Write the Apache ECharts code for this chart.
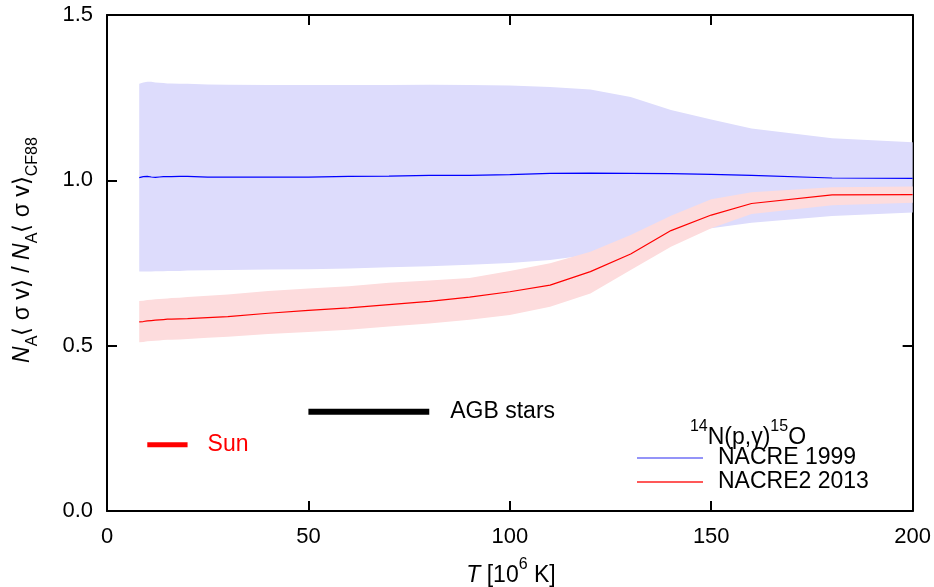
<!DOCTYPE html>
<html>
<head>
<meta charset="utf-8">
<script src="https://cdn.jsdelivr.net/npm/echarts@6/dist/echarts.min.js"></script>
<style>html,body{margin:0;padding:0;background:#fff;}#c{width:934px;height:587px;}</style>
</head>
<body>
<div id="c"></div>
<script>
// Temperature grid (10^6 K)
var T = [8, 9, 10, 11, 12, 13, 14, 15, 16, 18, 20, 25, 30, 40, 50, 60, 70, 80, 90, 100, 110, 120, 130, 140, 150, 160, 180, 200];
// NACRE 1999 (ratio to CF88)
var nacre99 = [1.008, 1.011, 1.012, 1.010, 1.009, 1.010, 1.011, 1.011, 1.011, 1.012, 1.012, 1.010, 1.010, 1.010, 1.010, 1.012, 1.013, 1.015, 1.015, 1.017, 1.021, 1.022, 1.021, 1.020, 1.018, 1.015, 1.007, 1.006];
var nacre99Hi = [1.292, 1.296, 1.298, 1.298, 1.296, 1.295, 1.294, 1.293, 1.293, 1.292, 1.292, 1.290, 1.289, 1.288, 1.288, 1.288, 1.288, 1.289, 1.288, 1.287, 1.282, 1.275, 1.252, 1.213, 1.184, 1.157, 1.127, 1.115];
var nacre99Lo = [0.724, 0.724, 0.724, 0.724, 0.725, 0.725, 0.725, 0.726, 0.726, 0.726, 0.727, 0.728, 0.729, 0.730, 0.731, 0.733, 0.737, 0.740, 0.745, 0.750, 0.759, 0.775, 0.800, 0.830, 0.855, 0.872, 0.892, 0.903];
// NACRE2 2013 (ratio to CF88)
var nacre2 = [0.572, 0.573, 0.575, 0.576, 0.577, 0.578, 0.579, 0.580, 0.580, 0.581, 0.582, 0.585, 0.588, 0.598, 0.607, 0.614, 0.624, 0.634, 0.647, 0.663, 0.683, 0.724, 0.777, 0.848, 0.895, 0.930, 0.956, 0.957];
var nacre2Hi = [0.635, 0.636, 0.638, 0.639, 0.640, 0.641, 0.642, 0.643, 0.644, 0.645, 0.647, 0.651, 0.655, 0.665, 0.673, 0.680, 0.690, 0.697, 0.705, 0.726, 0.749, 0.784, 0.835, 0.893, 0.943, 0.964, 0.979, 0.981];
var nacre2Lo = [0.510, 0.511, 0.513, 0.514, 0.515, 0.516, 0.517, 0.518, 0.518, 0.519, 0.520, 0.524, 0.527, 0.535, 0.541, 0.548, 0.558, 0.567, 0.578, 0.593, 0.618, 0.658, 0.729, 0.799, 0.855, 0.898, 0.925, 0.932];
// Temperature ranges
var sunRange = [10, 20], sunLevel = 0.2;
var agbRange = [50, 80], agbLevel = 0.3;
var xTicks = [0, 50, 100, 150, 200];
var yTicks = [0.0, 0.5, 1.0, 1.5];

var FONT = 'Liberation Sans, Arial, Helvetica, sans-serif';
function pairs(xs, ys) { return xs.map(function (x, i) { return [x, ys[i]]; }); }

var chart = echarts.init(document.getElementById('c'), null, { renderer: 'canvas' });

function axisCommon(showLabel) {
  return {
    axisLine: { show: true, onZero: false, lineStyle: { color: '#000', width: 2 } },
    axisTick: { show: true, inside: true, length: 10, lineStyle: { color: '#000', width: 2 } },
    splitLine: { show: false },
    axisLabel: { show: showLabel, color: '#000', fontSize: 22, fontFamily: FONT }
  };
}

var xb = Object.assign(axisCommon(true), { type: 'value', position: 'bottom', min: 0, max: 200, interval: 50 });
xb.axisLabel.margin = 15;
xb.axisLabel.formatter = function (v) { return xTicks.indexOf(v) >= 0 ? String(v) : ''; };
var xt = Object.assign(axisCommon(false), { type: 'value', position: 'top', min: 0, max: 200, interval: 50 });
var yl = Object.assign(axisCommon(true), { type: 'value', position: 'left', min: 0, max: 1.5, interval: 0.5 });
yl.axisLabel.margin = 14;
yl.axisLabel.formatter = function (v) { return v.toFixed(1); };
var yr = Object.assign(axisCommon(false), { type: 'value', position: 'right', min: 0, max: 1.5, interval: 0.5 });

function bandSeries(name, hi, lo, color) {
  return {
    name: name, type: 'custom', silent: true, z: 1,
    data: [0],
    renderItem: function (params, api) {
      var pts = [];
      for (var i = 0; i < T.length; i++) pts.push(api.coord([T[i], hi[i]]));
      for (var j = T.length - 1; j >= 0; j--) pts.push(api.coord([T[j], lo[j]]));
      return { type: 'polygon', shape: { points: pts }, style: { fill: color } };
    }
  };
}

var option = {
  animation: false,
  backgroundColor: '#fff',
  grid: { left: 107, right: 21, top: 15, bottom: 76, containLabel: false },
  xAxis: [xb, xt],
  yAxis: [yl, yr],
  legend: {
    left: 637, top: 446, padding: 0, orient: 'vertical', itemWidth: 66, itemHeight: 1.5, itemGap: 0, icon: 'rect',
    textStyle: { fontSize: 23, fontFamily: FONT, color: '#000', lineHeight: 24, padding: [0, 0, 0, 10] },
    data: [
      { name: 'NACRE 1999', itemStyle: { color: '#7070f6' } },
      { name: 'NACRE2 2013', itemStyle: { color: '#ff2020' } }
    ]
  },
  series: [
    bandSeries('band99', nacre99Hi, nacre99Lo, '#dddcfc'),
    bandSeries('band2', nacre2Hi, nacre2Lo, '#fddcdd'),
    { name: 'NACRE 1999', type: 'line', symbol: 'none', data: pairs(T, nacre99), lineStyle: { color: '#0000ff', width: 1.2 }, itemStyle: { color: '#0000ff' }, z: 5 },
    { name: 'NACRE2 2013', type: 'line', symbol: 'none', data: pairs(T, nacre2), lineStyle: { color: '#ff0000', width: 1.2 }, itemStyle: { color: '#ff0000' }, z: 5 },
    { name: 'Sun', type: 'line', symbol: 'none', data: sunRange.map(function (t) { return [t, sunLevel]; }),
      lineStyle: { color: '#ff0000', width: 5, cap: 'butt' }, z: 6,
      endLabel: { show: true, formatter: 'Sun', color: '#ff0000', fontSize: 23, fontFamily: FONT, distance: 20 } },
    { name: 'AGB', type: 'line', symbol: 'none', data: agbRange.map(function (t) { return [t, agbLevel]; }),
      lineStyle: { color: '#000', width: 6, cap: 'butt' }, z: 6,
      endLabel: { show: true, formatter: 'AGB stars', color: '#000', fontSize: 23, fontFamily: FONT, distance: 21 } }
  ],
  graphic: [
    {
      type: 'text', silent: true, z: 100,
      x: 748, y: 434,
      style: {
        text: '{sup|14}{t|N(p,γ)}{sup|15}{t|O}',
        align: 'center', verticalAlign: 'middle', fill: '#000',
        rich: {
          t: { fontSize: 23, fontFamily: FONT, lineHeight: 30, verticalAlign: 'bottom', fill: '#000' },
          sup: { fontSize: 16, fontFamily: FONT, lineHeight: 16, verticalAlign: 'top', fill: '#000' }
        }
      }
    },
    {
      type: 'text', silent: true, z: 100,
      x: 511, y: 572,
      style: {
        text: '{i|T}{t| [10}{sup|6}{t| K]}',
        align: 'center', verticalAlign: 'middle', fill: '#000',
        rich: {
          i: { fontSize: 23, fontFamily: FONT, fontStyle: 'italic', lineHeight: 30, verticalAlign: 'bottom', fill: '#000' },
          t: { fontSize: 23, fontFamily: FONT, lineHeight: 30, verticalAlign: 'bottom', fill: '#000' },
          sup: { fontSize: 16, fontFamily: FONT, lineHeight: 16, verticalAlign: 'top', fill: '#000' }
        }
      }
    },
    {
      type: 'text', silent: true, z: 100,
      x: 26, y: 250, rotation: Math.PI / 2,
      style: {
        text: '{i|N}{sub|A}{t|⟨ σ v⟩ / }{i|N}{sub|A}{t|⟨ σ v⟩}{sub|CF88}',
        align: 'center', verticalAlign: 'middle', fill: '#000',
        rich: {
          i: { fontSize: 23, fontFamily: FONT, fontStyle: 'italic', lineHeight: 30, verticalAlign: 'top', fill: '#000' },
          t: { fontSize: 23, fontFamily: FONT, lineHeight: 30, verticalAlign: 'top', fill: '#000' },
          sub: { fontSize: 16, fontFamily: FONT, lineHeight: 16, verticalAlign: 'bottom', fill: '#000' }
        }
      }
    }
  ]
};
chart.setOption(option);
</script>
</body>
</html>
